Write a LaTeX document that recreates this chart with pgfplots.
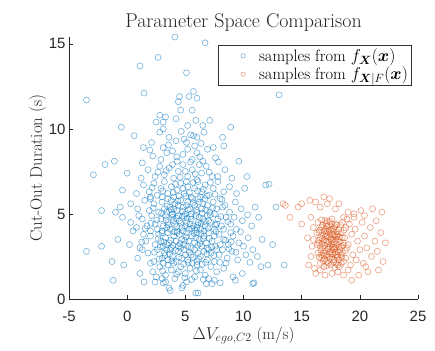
\documentclass[border=0pt]{standalone}
\usepackage{fontspec}
\usepackage{amsmath}
\usepackage{pgfplots}
\pgfplotsset{compat=1.18}
\newfontfamily\ticksf{Liberation Sans}
\definecolor{mblue}{rgb}{0,0.447,0.741}
\definecolor{morange}{rgb}{0.85,0.325,0.098}
\begin{document}
\begin{tikzpicture}
\begin{axis}[
 scale only axis, width=349bp, height=262bp,
 xmin=-5, xmax=25, ymin=0, ymax=15.4,
 axis lines=left, axis line style={-, line width=0.6bp, black!85},
 xtick={-5,0,5,10,15,20,25}, ytick={0,5,10,15},
 tick align=inside, major tick length=4bp,
 tick style={line width=0.6bp, black!85},
 ticklabel style={font=\ticksf\fontsize{15}{17}\selectfont, text=black!85},
 xticklabel style={yshift=-9bp},
 /pgf/number format/assume math mode=true,
 every axis title shift=0pt,
 title={Parameter Space Comparison},
 title style={font=\fontsize{20}{23}\selectfont, text=black!85, at={([yshift=9bp]axis description cs:0.5,1)}, anchor=base},
 xlabel={$\Delta V_{ego,C2}$ (m/s)}, ylabel={Cut-Out Duration (s)},
 xlabel style={font=\fontsize{16.5}{19}\selectfont, text=black!85, at={([yshift=-40bp]axis description cs:0.5,0)}, anchor=base},
 ylabel style={font=\fontsize{17}{20}\selectfont, text=black!85, at={([xshift=-27bp]axis description cs:0,0.5)}, anchor=base},
 legend style={at={(0.982,0.97)}, anchor=north east, draw=black!80, line width=0.6bp,
   font=\fontsize{16.5}{18}\selectfont, cells={anchor=west}, inner sep=1.5bp},
 legend image code/.code={\path (-0.53cm,0cm) (0.75cm,0cm); \draw[#1, mark size=2.2bp] plot coordinates {(0.27cm,0cm)};},
 clip=false,
]
\addplot[only marks, mark=o, mark size=3bp, mark options={draw=mblue, draw opacity=0.55, line width=0.6bp}] coordinates {
(3.6,0.65)(4.7,0.65)(5.9,0.35)(-1.2,1.1)(1.45,1.0)(3.1,0.95)(3.7,0.5)(4.8,0.8)(6.1,0.35)(7.3,0.9)(8.0,0.95)(9.3,1.1)(10.9,0.95)(3.3,1.0)(3.0,1.2)(10.8,0.9)(6.8,0.9)(2.4,1.0)(7.5,1.1)(5.1,1.0)
(-0.3,2.0)(1.1,1.5)(2.2,1.6)(2.8,1.9)(3.3,1.4)(3.8,1.7)(4.1,1.2)(4.6,1.9)(5.0,1.5)(5.4,1.8)(5.8,1.3)(6.3,1.7)(6.7,1.4)(7.2,1.9)(7.7,1.6)(8.5,2.1)(9.1,1.3)(9.9,1.5)(11.5,1.9)(12.1,2.0)(13.5,2.0)(-1.3,2.2)(2.5,1.3)(4.4,1.6)(6.0,2.0)(3.5,2.0)(7.0,1.2)(8.3,1.8)
(-3.5,2.8)(-2.2,3.1)(0.9,2.4)(1.8,2.7)(2.3,2.2)(2.6,2.9)(3.0,2.4)(3.2,2.7)(3.5,2.3)(3.7,2.9)(3.9,2.5)(4.2,2.2)(4.4,2.8)(4.7,2.4)(4.9,2.9)(5.2,2.3)(5.5,2.6)(5.8,2.9)(6.0,2.2)(6.3,2.5)(6.6,2.8)(6.9,2.3)(7.2,2.7)(7.5,2.2)(7.9,2.6)(8.2,2.9)(8.6,2.4)(9.0,2.8)(9.5,2.3)(10.2,2.6)(10.8,2.9)(1.3,2.9)(2.0,2.1)(3.4,2.9)(4.0,2.1)(5.0,2.6)(6.1,2.7)(7.0,2.9)(3.1,2.1)(5.6,2.1)(7.7,2.9)(11.2,2.5)
(0.5,4.0)(1.1,3.0)(1.6,3.4)(2.0,3.7)(2.4,3.2)(2.7,3.8)(2.9,3.4)(3.1,3.1)(3.3,3.6)(3.5,3.9)(3.6,3.3)(3.8,3.0)(4.0,3.7)(4.2,3.4)(4.4,3.1)(4.5,3.8)(4.7,3.5)(4.9,3.2)(5.1,3.9)(5.3,3.4)(5.5,3.0)(5.6,3.7)(5.8,3.3)(6.0,3.9)(6.2,3.5)(6.4,3.1)(6.6,3.7)(6.8,3.3)(7.0,3.9)(7.3,3.4)(7.6,3.1)(7.9,3.8)(8.3,3.5)(8.7,3.2)(9.1,3.7)(9.6,3.3)(10.4,3.6)(11.6,3.5)(12.5,3.2)(-0.8,3.5)(0.2,3.2)(1.4,3.8)(3.0,3.9)(4.6,3.0)(5.9,3.6)(6.9,3.0)(8.0,3.2)(8.9,3.9)(10.0,3.1)(3.4,3.2)(4.3,3.9)(5.2,3.1)(7.5,3.7)
(-0.4,4.8)(0.3,4.5)(0.8,4.2)(1.3,4.7)(1.7,4.3)(2.1,4.9)(2.4,4.4)(2.6,4.1)(2.9,4.7)(3.1,4.3)(3.3,4.9)(3.5,4.5)(3.7,4.1)(3.9,4.8)(4.1,4.4)(4.3,4.0)(4.5,4.6)(4.7,4.2)(4.9,4.9)(5.1,4.5)(5.3,4.1)(5.5,4.7)(5.7,4.3)(5.9,4.9)(6.1,4.5)(6.3,4.1)(6.5,4.7)(6.7,4.3)(6.9,4.9)(7.2,4.5)(7.5,4.1)(7.8,4.7)(8.1,4.3)(8.5,4.8)(8.9,4.4)(9.4,4.1)(9.9,4.6)(10.7,4.3)(11.3,4.8)(1.0,4.9)(2.0,4.0)(3.4,4.2)(4.0,4.6)(4.8,4.0)(5.4,4.4)(6.0,4.2)(6.6,4.0)(7.0,4.6)(7.7,4.4)(8.3,4.1)(9.2,4.8)(3.0,4.0)(5.0,4.3)(6.2,4.8)(4.4,4.9)
(-2.2,5.2)(-1.0,5.1)(-0.6,5.4)(0.3,5.6)(0.9,5.3)(1.5,5.8)(1.9,5.2)(2.3,5.6)(2.7,5.1)(3.0,5.7)(3.2,5.3)(3.5,5.9)(3.7,5.4)(3.9,5.0)(4.1,5.6)(4.3,5.2)(4.6,5.8)(4.8,5.4)(5.0,5.0)(5.2,5.7)(5.4,5.3)(5.6,5.9)(5.8,5.5)(6.0,5.1)(6.2,5.7)(6.4,5.3)(6.7,5.9)(6.9,5.5)(7.1,5.1)(7.4,5.7)(7.7,5.3)(8.0,5.9)(8.4,5.5)(8.8,5.1)(9.3,5.7)(9.8,5.3)(11.0,5.4)(12.8,5.4)(2.0,5.9)(3.4,5.1)(4.4,5.5)(5.5,5.0)(6.5,5.6)(7.5,5.0)(8.2,5.4)(3.8,5.8)(5.1,5.5)(6.1,5.9)(4.0,5.3)
(-0.4,6.4)(0.8,6.2)(1.4,6.7)(1.9,6.3)(2.3,6.8)(2.6,6.1)(2.9,6.5)(3.2,6.9)(3.5,6.2)(3.8,6.6)(4.0,6.0)(4.3,6.4)(4.6,6.8)(4.9,6.2)(5.2,6.6)(5.5,6.0)(5.8,6.5)(6.1,6.9)(6.4,6.3)(6.7,6.7)(7.0,6.1)(7.4,6.5)(7.8,6.9)(8.3,6.3)(8.8,6.6)(9.4,6.2)(10.1,6.5)(11.9,6.7)(12.2,6.75)(3.0,6.0)(4.8,6.5)(6.3,6.0)(5.1,6.9)(2.0,6.0)
(-2.9,7.3)(-1.9,7.9)(0.0,7.4)(1.2,7.1)(1.8,7.6)(2.4,7.2)(2.8,7.8)(3.2,7.3)(3.6,7.7)(4.0,7.1)(4.4,7.5)(4.8,7.9)(5.2,7.2)(5.6,7.6)(6.0,7.0)(6.4,7.4)(6.8,7.8)(7.3,7.2)(7.8,7.2)(8.4,7.6)(9.0,7.1)(10.3,7.2)(3.9,7.9)(5.0,7.5)(6.2,7.9)
(-1.1,8.1)(1.3,8.0)(1.4,8.9)(2.2,8.4)(2.9,8.2)(3.4,8.6)(3.9,8.7)(4.3,8.1)(4.8,8.5)(5.2,8.8)(5.6,8.2)(6.0,8.6)(6.5,8.1)(6.9,8.8)(7.4,8.9)(7.6,8.3)(8.3,9.0)(9.6,8.1)(5.8,9.0)(3.1,8.9)
(0.6,9.6)(2.1,9.2)(2.8,9.8)(3.1,10.0)(4.9,9.4)(5.1,9.2)(5.7,9.6)(6.0,9.5)(8.2,9.5)(4.2,9.3)(6.6,9.8)(3.6,9.5)
(-0.5,10.1)(2.5,10.4)(3.1,10.4)(2.8,10.8)(3.3,10.7)(4.2,10.6)(5.9,10.5)(5.2,10.2)(6.5,10.2)(7.1,10.5)(8.9,10.1)(4.6,11.1)(5.6,11.1)(4.4,11.6)(4.5,11.9)(5.3,11.9)(6.0,11.8)(1.45,12.1)(5.7,12.2)(-3.5,11.7)(13.06,12.0)
(5.1,13.3)(1.1,13.7)(2.65,14.2)(4.1,15.4)(6.7,15.06)
(3.25,2.55)(3.75,3.45)(4.15,2.85)(4.55,3.25)(4.85,2.05)(5.35,2.75)(5.75,3.85)(6.15,2.35)(6.55,3.55)(6.85,2.65)(3.55,4.35)(3.95,3.15)(4.25,4.75)(4.65,4.45)(5.05,3.65)(5.45,4.85)(5.85,4.05)(6.25,3.25)(6.65,4.55)(7.05,3.55)(3.45,5.45)(3.85,4.95)(4.35,5.75)(4.75,5.15)(5.15,4.75)(5.65,5.65)(6.05,4.35)(6.45,5.05)(6.95,4.15)(7.35,5.35)(2.85,3.05)(2.55,4.65)(2.25,5.35)(7.65,3.95)(8.05,4.85)(8.45,3.45)(3.05,6.35)(4.15,6.75)(5.35,6.25)(6.55,6.45)(4.55,7.15)(5.85,7.35)(3.35,7.55)(7.15,6.85)(2.75,2.35)(5.95,1.65)(4.95,1.25)(3.85,2.25)(6.45,2.05)(7.45,2.55)
(3.15,3.35)(3.65,2.65)(4.05,3.95)(4.45,2.45)(4.95,3.45)(5.25,2.15)(5.65,2.45)(6.05,3.15)(6.35,3.85)(6.75,2.15)(7.25,3.05)(7.55,4.35)(3.35,4.65)(3.75,5.25)(4.25,4.25)(4.75,4.85)(5.25,5.25)(5.55,4.15)(5.95,5.25)(6.35,4.45)(6.75,5.25)(7.15,4.95)(2.95,5.05)(2.65,3.55)(2.35,2.75)(3.95,6.25)(4.45,6.05)(5.05,6.05)(5.65,6.85)(6.05,6.35)(6.85,6.05)(7.55,6.15)(8.15,5.85)(8.65,4.55)(8.95,3.35)(9.35,2.75)(2.05,4.45)(1.55,4.15)(1.25,3.35)(3.05,1.65)(4.25,1.45)(5.55,1.15)(6.55,1.15)(7.95,2.15)(8.75,2.95)(9.75,3.95)(10.35,4.95)(10.55,2.15)(2.15,6.55)(2.65,7.45)(4.25,8.35)(5.45,8.05)(6.25,8.35)(7.05,7.45)(7.85,8.05)(3.55,9.05)(4.65,9.85)(5.45,9.65)(6.35,9.15)(1.95,8.75)
};
\addlegendentry{samples from $f_{\boldsymbol{X}}(\boldsymbol{x})$}
\addplot[only marks, mark=o, mark size=3bp, mark options={draw=morange, draw opacity=0.55, line width=0.6bp}] coordinates {
(13.4,5.6)(14.0,4.8)(14.7,5.4)(15.0,5.6)(15.7,5.8)(16.2,5.7)(15.8,4.8)(16.9,6.0)(17.4,5.9)(17.2,5.6)(17.9,5.3)(15.0,4.4)(18.6,4.8)(19.5,4.8)(21.1,5.3)(21.9,5.1)(13.6,5.5)(16.6,5.4)(18.2,5.6)(19.0,5.1)(20.4,4.9)
(16.4,4.5)(16.7,4.2)(17.0,4.6)(17.3,4.3)(17.6,4.7)(17.9,4.4)(18.2,4.1)(18.5,4.5)(18.8,4.2)
(16.3,3.9)(16.6,3.6)(16.9,4.0)(17.2,3.7)(17.5,4.1)(17.8,3.8)(18.1,3.5)(18.4,3.9)(18.7,3.6)
(16.5,3.3)(16.8,3.0)(17.1,3.4)(17.4,3.1)(17.7,3.5)(18.0,3.2)(18.3,2.9)(18.6,3.3)(18.9,3.0)
(16.4,2.7)(16.7,2.4)(17.0,2.8)(17.3,2.5)(17.6,2.9)(17.9,2.6)(18.2,2.3)(18.5,2.7)(18.8,2.4)
(16.6,2.1)(16.9,1.9)(17.2,2.2)(17.5,2.0)(17.8,2.3)(18.1,2.0)(18.4,2.1)
(16.55,4.05)(16.85,3.75)(17.15,4.25)(17.45,3.85)(17.75,4.15)(18.05,3.95)(18.35,4.35)(18.65,4.05)
(16.45,3.45)(16.75,3.25)(17.05,3.65)(17.35,3.35)(17.65,3.75)(17.95,3.45)(18.25,3.65)(18.55,3.15)
(16.65,2.85)(16.95,2.55)(17.25,2.95)(17.55,2.65)(17.85,2.95)(18.15,2.75)(18.45,2.45)(18.75,2.85)
(16.85,2.25)(17.15,1.95)(17.45,2.35)(17.75,2.15)(18.05,2.55)
(17.1,4.45)(17.4,4.55)(17.7,4.0)(17.9,3.65)(17.3,3.0)(17.6,3.25)(17.9,2.75)(17.0,3.15)(17.5,3.55)(18.2,3.05)(17.8,3.05)(17.4,2.75)(16.9,3.45)(18.0,4.35)(17.2,4.0)
(16.5,3.95)(16.8,4.35)(17.05,4.1)(17.35,4.05)(17.6,4.4)(17.85,4.25)(18.1,3.8)(18.3,3.35)(18.5,3.6)(16.6,3.1)(16.9,2.7)(17.15,2.6)(17.4,3.65)(17.65,3.05)(17.95,3.0)(18.1,2.45)(18.35,2.6)(16.7,2.6)(17.0,2.35)(17.3,2.1)(17.6,2.45)(17.85,1.85)(18.25,1.9)(16.5,2.45)(17.1,3.85)(17.55,3.45)(17.8,3.35)(18.4,3.1)(16.75,3.55)(17.25,3.25)(17.7,2.65)(18.0,2.1)(16.35,3.2)(18.6,2.2)(18.0,3.7)(17.2,4.6)(16.7,4.65)
(15.5,3.6)(15.8,2.5)(15.9,3.1)(16.0,4.2)(16.1,1.8)(15.6,2.0)(16.2,1.5)(16.0,3.5)
(19.1,4.4)(19.3,3.8)(19.0,3.2)(19.4,2.6)(19.2,2.0)(19.6,4.1)(19.8,3.4)(19.7,2.3)(20.0,2.9)(20.2,4.5)(20.4,3.7)(20.3,2.1)(20.6,3.0)(20.9,4.2)(21.0,2.5)(21.3,3.4)(21.5,2.8)(21.8,3.9)(22.0,2.2)(21.6,1.7)(20.7,1.6)(19.9,1.4)(19.3,1.1)(18.6,1.4)(18.1,1.6)(17.6,1.5)(17.0,1.4)(16.6,1.7)(19.0,1.7)(20.5,1.9)(18.9,4.7)(19.5,5.0)(20.1,5.2)(21.4,4.6)(22.2,3.3)
};
\addlegendentry{samples from $f_{\boldsymbol{X}|F}(\boldsymbol{x})$}
\end{axis}
\pgfresetboundingbox
\path (current axis.south west) ++(-69bp,-52bp) rectangle ++(435bp,351bp);
\end{tikzpicture}
\end{document}
